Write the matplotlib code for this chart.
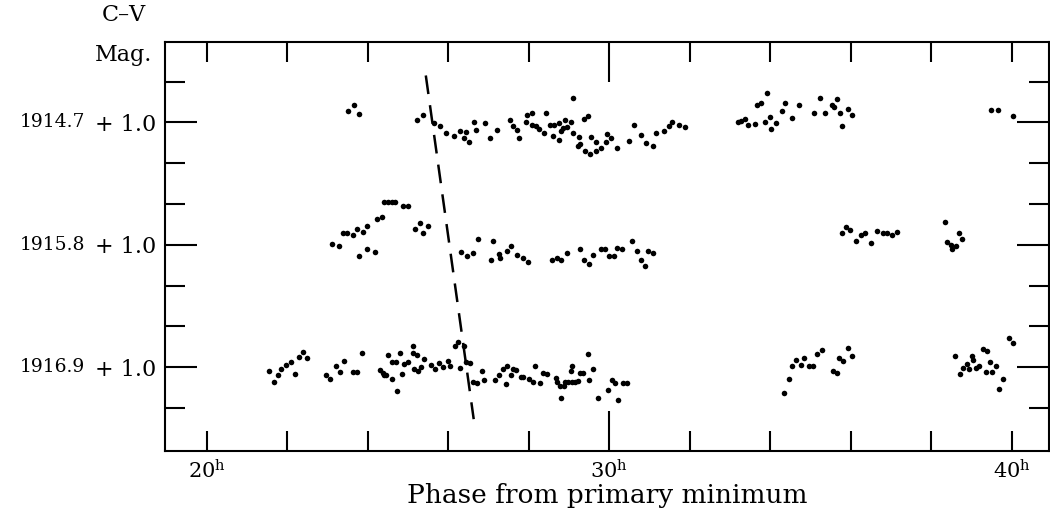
import matplotlib.pyplot as plt
from matplotlib.ticker import FixedLocator

# phase (hours from primary minimum) and C-V magnitude, one pair of lists per epoch
h_1914 = [23.50, 23.66, 23.77, 25.23, 25.37, 25.65, 25.79, 25.94, 26.13, 26.29, 26.45, 26.39, 26.52, 26.63,
          26.68, 26.92, 27.03, 27.21, 27.53, 27.60, 27.71, 27.76, 27.95, 28.08, 27.93, 28.09, 28.17, 28.26,
          28.37, 28.42, 28.52, 28.62, 28.61, 28.74, 28.75, 28.79, 28.85, 28.90, 28.94, 29.04, 29.09, 29.10,
          29.25, 29.21, 29.28, 29.37, 29.47, 29.39, 29.53, 29.66, 29.54, 29.68, 29.79, 29.93, 29.91, 30.05,
          30.20, 30.48, 30.61, 30.78, 30.91, 31.09, 31.17, 31.36, 31.49, 31.55, 31.73, 31.89, 33.20, 33.26,
          33.37, 33.45, 33.62, 33.66, 33.76, 33.91, 33.86, 33.99, 34.01, 34.15, 34.28, 34.37, 34.53, 34.70,
          35.09, 35.23, 35.35, 35.52, 35.57, 35.66, 35.72, 35.79, 35.92, 36.02, 39.47, 39.65, 40.03]
m_1914 = [0.972, 0.957, 0.979, 0.993, 0.981, 1.002, 1.009, 1.026, 1.034, 1.022, 1.024, 1.039, 1.047, 0.998,
          1.018, 1.002, 1.039, 1.018, 0.993, 1.008, 1.019, 1.038, 0.982, 0.978, 0.998, 1.007, 1.008, 1.015,
          1.025, 0.977, 1.007, 1.007, 1.034, 1.043, 1.002, 1.021, 1.014, 0.993, 1.012, 0.998, 0.939, 1.025,
          1.036, 1.057, 1.052, 0.991, 0.985, 1.071, 1.077, 1.071, 1.036, 1.047, 1.062, 1.029, 1.047, 1.038,
          1.063, 1.046, 1.007, 1.032, 1.051, 1.057, 1.026, 1.021, 1.010, 1.000, 1.006, 1.012, 0.998, 0.997,
          0.991, 1.007, 1.005, 0.957, 0.952, 0.928, 0.998, 0.987, 1.017, 1.002, 0.973, 0.953, 0.988, 0.957,
          0.978, 0.939, 0.978, 0.957, 0.963, 0.942, 0.978, 1.009, 0.968, 0.983, 0.969, 0.969, 0.985]

h_1915 = [23.10, 23.28, 23.39, 23.49, 23.62, 23.72, 23.87, 23.98, 23.77, 23.97, 24.17, 24.22, 24.36, 24.41,
          24.50, 24.60, 24.68, 24.88, 25.01, 25.16, 25.29, 25.38, 25.49, 26.32, 26.46, 26.62, 26.74, 27.06,
          27.11, 27.25, 27.28, 27.45, 27.56, 27.71, 27.86, 27.99, 28.57, 28.69, 28.81, 28.94, 29.27, 29.37,
          29.50, 29.60, 29.79, 29.90, 29.99, 30.11, 30.20, 30.31, 30.57, 30.68, 30.78, 30.89, 30.96, 31.09,
          35.77, 35.89, 35.98, 36.12, 36.24, 36.35, 36.51, 36.65, 36.80, 36.90, 37.03, 37.14, 38.34, 38.38,
          38.49, 38.50, 38.61, 38.69, 38.75]
m_1915 = [0.997, 1.004, 0.971, 0.971, 0.977, 0.960, 0.969, 0.955, 1.028, 1.009, 1.017, 0.937, 0.932, 0.896,
          0.896, 0.896, 0.896, 0.905, 0.905, 0.961, 0.946, 0.971, 0.955, 1.018, 1.028, 1.020, 0.985, 1.036,
          0.991, 1.023, 1.031, 1.015, 1.004, 1.025, 1.031, 1.041, 1.036, 1.031, 1.036, 1.020, 1.010, 1.036,
          1.046, 1.025, 1.009, 1.009, 1.028, 1.028, 1.007, 1.010, 0.991, 1.016, 1.036, 1.051, 1.015, 1.020,
          0.971, 0.956, 0.964, 0.990, 0.977, 0.971, 0.996, 0.967, 0.971, 0.971, 0.975, 0.969, 0.945, 0.994,
          1.000, 1.009, 1.004, 0.972, 0.985]

h_1916 = [21.55, 21.66, 21.77, 21.84, 21.96, 22.08, 22.19, 22.29, 22.38, 22.49, 22.96, 23.07, 23.20, 23.30,
          23.41, 23.63, 23.73, 23.86, 24.30, 24.37, 24.40, 24.46, 24.50, 24.61, 24.70, 24.61, 24.73, 24.80,
          24.84, 24.89, 25.00, 25.13, 25.11, 25.21, 25.14, 25.25, 25.33, 25.39, 25.58, 25.68, 25.77, 25.87,
          25.98, 26.05, 26.16, 26.24, 26.29, 26.39, 26.45, 26.53, 26.62, 26.72, 26.83, 26.89, 27.16, 27.26,
          27.36, 27.45, 27.43, 27.60, 27.68, 27.55, 27.80, 27.86, 28.01, 28.15, 28.11, 28.27, 28.36, 28.44,
          28.67, 28.70, 28.77, 28.87, 28.81, 28.89, 28.98, 29.06, 29.04, 29.08, 29.14, 29.23, 29.27, 29.35,
          29.46, 29.50, 29.60, 29.71, 29.96, 30.07, 30.14, 30.22, 30.33, 30.43, 34.34, 34.46, 34.54, 34.63,
          34.76, 34.84, 34.96, 35.06, 35.15, 35.27, 35.55, 35.66, 35.71, 35.81, 35.93, 36.03, 38.59, 38.71,
          38.79, 38.89, 38.94, 39.01, 39.04, 39.11, 39.19, 39.27, 39.37, 39.35, 39.51, 39.45, 39.60, 39.77,
          39.68, 39.93, 40.03]
m_1916 = [1.008, 1.037, 1.020, 1.004, 0.994, 0.987, 1.017, 0.975, 0.962, 0.977, 1.020, 1.028, 0.996, 1.012,
          0.985, 1.012, 1.012, 0.964, 1.006, 1.013, 1.020, 1.020, 0.971, 0.986, 0.986, 1.029, 1.059, 0.965,
          1.016, 0.991, 0.986, 0.948, 0.965, 0.971, 1.004, 1.010, 1.000, 0.980, 0.994, 1.004, 0.990, 1.000,
          0.985, 0.998, 0.949, 0.939, 1.002, 0.949, 0.986, 0.990, 1.035, 1.039, 1.010, 1.031, 1.031, 1.018,
          1.004, 0.998, 1.041, 1.004, 1.006, 1.018, 1.024, 1.024, 1.028, 0.998, 1.036, 1.039, 1.013, 1.016,
          1.025, 1.035, 1.047, 1.047, 1.074, 1.037, 1.035, 1.035, 1.010, 0.996, 1.035, 1.033, 1.013, 1.013,
          0.968, 1.031, 1.004, 1.074, 1.055, 1.031, 1.039, 1.080, 1.039, 1.039, 1.063, 1.029, 0.998, 0.982,
          0.994, 0.977, 0.998, 0.998, 0.968, 0.957, 1.008, 1.014, 0.977, 0.984, 0.953, 0.973, 0.972, 1.017,
          1.002, 0.991, 1.004, 0.972, 0.983, 1.002, 0.998, 0.955, 0.961, 1.012, 1.012, 0.988, 0.996, 1.028,
          1.052, 0.929, 0.941]

epochs = ["1914.7", "1915.8", "1916.9"]
row_shift = [0.0, 0.3, 0.6]  # vertical offset of each epoch in magnitudes

# dashed line drawn across the three runs (phase, shifted magnitude)
boundary_h = [25.44, 26.63]
boundary_m = [0.885, 1.727]

plt.rcParams["font.family"] = ["DejaVu Serif"]
plt.rcParams["mathtext.fontset"] = "dejavuserif"

fig = plt.figure(figsize=(10.5, 5.16), dpi=100)
ax = fig.add_axes([0.1571, 0.126, 0.8419, 0.7926])

series = [(h_1914, m_1914), (h_1915, m_1915), (h_1916, m_1916)]
for (hh, mm), shift in zip(series, row_shift):
    ax.plot(hh, [m + shift for m in mm], linestyle="none", marker="o",
            markersize=4.0, color="black", markeredgewidth=0)

ax.plot(boundary_h, boundary_m, color="black", linewidth=1.8, dashes=(7.5, 4.5))

ax.set_xlim(18.96, 40.92)
ax.set_ylim(1.805, 0.803)

for side in ax.spines.values():
    side.set_linewidth(1.5)

xt = list(range(20, 41, 2))
ax.set_xticks(xt)
ax.set_xticklabels([f"{t}$^{{\\mathrm{{h}}}}$" if t % 10 == 0 else "" for t in xt], fontsize=15)
ax.tick_params(axis="x", which="major", direction="in", length=14.5, width=1.5,
               top=True, bottom=True, pad=6)
for tk in ax.xaxis.get_major_ticks():
    if tk.get_loc() == 30:
        tk.tick1line.set_markersize(29)
        tk.tick2line.set_markersize(29)

ax.yaxis.set_major_locator(FixedLocator([1 + s for s in row_shift]))
ax.yaxis.set_minor_locator(FixedLocator([0.9, 1.1, 1.2, 1.4, 1.5, 1.7]))
ax.set_yticklabels(["+ 1.0"] * 3, fontsize=16)
ax.tick_params(axis="y", which="major", direction="in", length=23, width=1.5,
               left=True, right=True, pad=6)
ax.tick_params(axis="y", which="minor", direction="in", length=14.5, width=1.5,
               left=True, right=True)

for name, shift in zip(epochs, row_shift):
    ax.text(-0.164, 1 + shift, name, transform=ax.get_yaxis_transform(),
            ha="left", va="center", fontsize=13.5)

fig.text(0.118, 0.97, "C–V", ha="center", va="center", fontsize=16)
fig.text(0.118, 0.893, "Mag.", ha="center", va="center", fontsize=16)
ax.set_xlabel("Phase from primary minimum", fontsize=19, labelpad=0)

fig.savefig("out.png", dpi=100)
